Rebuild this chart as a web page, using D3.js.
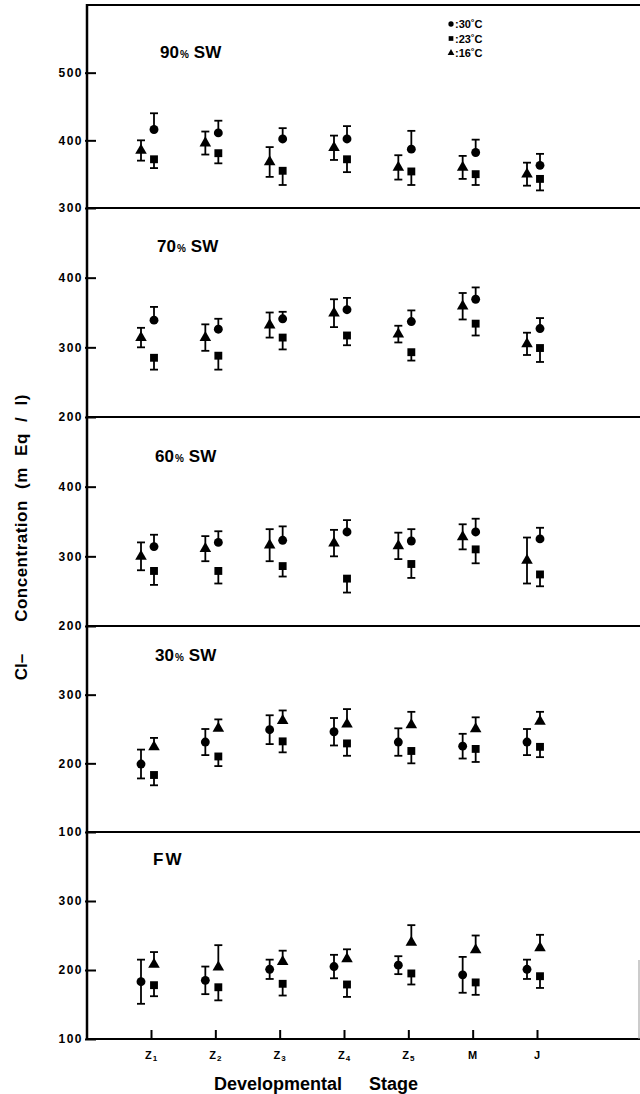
<!DOCTYPE html>
<html>
<head>
<meta charset="utf-8">
<script src="https://cdn.jsdelivr.net/npm/d3@7"></script>
<style>
  body { margin: 0; background: #fff; }
  svg { display: block; font-family: "Liberation Sans", Arial, sans-serif; font-weight: bold; }
</style>
</head>
<body>
<div id="chart"></div>
<script>
// stages on the x axis
var stages = ["Z1", "Z2", "Z3", "Z4", "Z5", "M", "J"];
var stageLabels = [["Z", "1"], ["Z", "2"], ["Z", "3"], ["Z", "4"], ["Z", "5"], ["M", ""], ["J", ""]];

// panels, top to bottom
var panelNames = ["90", "70", "60", "30", "FW"];
var panelDomains = [[300, 600], [200, 500], [200, 500], [100, 400], [100, 400]];

// Cl- (mEq/l), mean and error per temperature
var sw90_30 = [416, 411, 402, 402, 387, 382, 363];
var sw90_30_err = [24, 18, 16, 19, 27, 19, 17];
var sw90_23 = [372, 381, 355, 372, 354, 350, 343];
var sw90_23_err = [13, 15, 21, 19, 20, 16, 17];
var sw90_16 = [385, 396, 368, 389, 360, 360, 350];
var sw90_16_err = [15, 17, 22, 18, 18, 17, 17];

var sw70_30 = [339, 326, 341, 354, 337, 369, 327];
var sw70_30_err = [19, 15, 10, 17, 16, 17, 15];
var sw70_23 = [285, 288, 314, 317, 293, 334, 299];
var sw70_23_err = [17, 20, 17, 14, 12, 17, 20];
var sw70_16 = [314, 314, 332, 349, 319, 359, 305];
var sw70_16_err = [14, 19, 18, 20, 12, 19, 16];

var sw60_30 = [314, 320, 323, 335, 322, 335, 325];
var sw60_30_err = [17, 16, 20, 17, 17, 19, 16];
var sw60_23 = [279, 279, 286, 268, 289, 310, 274];
var sw60_23_err = [20, 18, 15, 20, 20, 20, 17];
var sw60_16 = [300, 311, 316, 319, 315, 328, 294];
var sw60_16_err = [20, 18, 23, 19, 19, 18, 33];

var sw30_30 = [199, 231, 249, 246, 231, 225, 231];
var sw30_30_err = [21, 19, 21, 20, 20, 18, 19];
var sw30_23 = [183, 210, 232, 229, 218, 221, 224];
var sw30_23_err = [15, 14, 16, 18, 18, 19, 15];
var sw30_16 = [224, 251, 262, 257, 256, 250, 261];
var sw30_16_err = [13, 13, 15, 22, 19, 17, 14];

var fw_30 = [183, 185, 201, 205, 207, 193, 201];
var fw_30_err = [32, 20, 14, 17, 13, 26, 14];
var fw_23 = [178, 175, 180, 179, 195, 182, 191];
var fw_23_err = [16, 19, 17, 18, 16, 18, 17];
var fw_16 = [208, 204, 212, 216, 240, 229, 232];
var fw_16_err = [18, 32, 16, 14, 25, 21, 19];

var w = 640, h = 1094;
var left = 87;
var bounds = [5, 208, 417, 626, 832, 1039];

var svg = d3.select("#chart").append("svg")
  .attr("width", w)
  .attr("height", h);

var x = d3.scalePoint().domain(stages).range([151, 537]);

var shapes = { "30": d3.symbolCircle, "23": d3.symbolSquare, "16": d3.symbolTriangle };
var sizes = { "30": 62, "23": 62, "16": 58 };

var panels = [
  { series: [["16", sw90_16, sw90_16_err], ["30", sw90_30, sw90_30_err], ["23", sw90_23, sw90_23_err]] },
  { series: [["16", sw70_16, sw70_16_err], ["30", sw70_30, sw70_30_err], ["23", sw70_23, sw70_23_err]] },
  { series: [["16", sw60_16, sw60_16_err], ["30", sw60_30, sw60_30_err], ["23", sw60_23, sw60_23_err]] },
  { series: [["30", sw30_30, sw30_30_err], ["16", sw30_16, sw30_16_err], ["23", sw30_23, sw30_23_err]] },
  { series: [["30", fw_30, fw_30_err], ["16", fw_16, fw_16_err], ["23", fw_23, fw_23_err]] }
];

// offset and bar side per series: first one sits left with a full bar,
// the other two share a column (upper one shows the top half, lower one the bottom half)
var offsets = [-10, 3, 3];
var sides = ["both", "up", "down"];

panels.forEach(function(p, i) {
  var y = d3.scaleLinear().domain(panelDomains[i]).range([bounds[i + 1], bounds[i]]);
  var g = svg.append("g");

  var lo = panelDomains[i][0];
  g.append("g")
    .attr("transform", "translate(" + left + ",0)")
    .call(d3.axisLeft(y).tickValues([lo, lo + 100, lo + 200]).tickSize(-9).tickPadding(4))
    .call(function(a) {
      a.select(".domain").remove();
      a.selectAll(".tick line").attr("stroke", "#000").attr("stroke-width", 2).attr("x1", -2);
      a.selectAll(".tick text")
        .attr("font-family", "Liberation Sans, Arial, sans-serif")
        .attr("font-weight", "bold")
        .attr("font-size", 12)
        .attr("letter-spacing", 1.5)
        .attr("fill", "#000");
    });

  // title
  var title = g.append("text")
    .attr("x", [160, 157, 155, 155, 153][i])
    .attr("y", [58, 252, 462, 661, 865][i])
    .attr("font-size", 17)
    .attr("fill", "#000");
  if (panelNames[i] === "FW") {
    title.text("FW").attr("letter-spacing", 2);
  } else {
    title.append("tspan").text(panelNames[i]);
    title.append("tspan").attr("font-size", 10).attr("dx", 1).text("%");
    title.append("tspan").attr("dx", 5).text("SW");
  }

  p.series.forEach(function(s, k) {
    var key = s[0], vals = s[1], errs = s[2];
    var pts = vals.map(function(v, j) { return { stage: stages[j], v: v, e: errs[j] }; });
    var cx = function(d) { return x(d.stage) + offsets[k]; };

    var bars = g.append("g").attr("stroke", "#000").attr("stroke-width", 1.8);
    pts.forEach(function(d) {
      var top = sides[k] === "down" ? d.v : d.v + d.e;
      var bot = sides[k] === "up" ? d.v : d.v - d.e;
      var xx = cx(d);
      bars.append("line").attr("x1", xx).attr("x2", xx).attr("y1", y(top)).attr("y2", y(bot));
      if (sides[k] !== "down") {
        bars.append("line").attr("x1", xx - 4).attr("x2", xx + 4).attr("y1", y(top)).attr("y2", y(top));
      }
      if (sides[k] !== "up") {
        bars.append("line").attr("x1", xx - 4).attr("x2", xx + 4).attr("y1", y(bot)).attr("y2", y(bot));
      }
    });

    g.append("g").selectAll("path")
      .data(pts)
      .enter().append("path")
      .attr("d", d3.symbol().type(shapes[key]).size(sizes[key]))
      .attr("transform", function(d) { return "translate(" + cx(d) + "," + y(d.v) + ")"; })
      .attr("fill", "#000");
  });
});

// frame: top line, panel dividers, bottom axis, left axis
svg.append("g").selectAll("line")
  .data(bounds)
  .enter().append("line")
  .attr("x1", left).attr("x2", w)
  .attr("y1", function(d) { return d; }).attr("y2", function(d) { return d; })
  .attr("stroke", "#000").attr("stroke-width", 2);

svg.append("line")
  .attr("x1", left).attr("x2", left)
  .attr("y1", bounds[0] - 1).attr("y2", bounds[5] + 1)
  .attr("stroke", "#000").attr("stroke-width", 2.5);

svg.append("line")
  .attr("x1", 639).attr("x2", 639)
  .attr("y1", 960).attr("y2", bounds[5])
  .attr("stroke", "#999").attr("stroke-width", 1);

// x axis ticks and labels
var xAxis = svg.append("g")
  .attr("transform", "translate(0," + bounds[5] + ")")
  .call(d3.axisBottom(x).tickSize(-9).tickFormat(""));
xAxis.select(".domain").remove();
xAxis.selectAll(".tick line").attr("stroke", "#000").attr("stroke-width", 2);

svg.append("g").selectAll("text")
  .data(stageLabels)
  .enter().append("text")
  .attr("x", function(d, i) { return x(stages[i]); })
  .attr("y", 1059)
  .attr("text-anchor", "middle")
  .attr("font-size", 11)
  .each(function(d) {
    var t = d3.select(this);
    t.append("tspan").text(d[0]);
    if (d[1]) t.append("tspan").attr("font-size", 8).attr("dy", 2).attr("dx", 1).text(d[1]);
  });

svg.append("text")
  .attr("x", 316)
  .attr("y", 1090)
  .attr("text-anchor", "middle")
  .attr("font-size", 18)
  .attr("word-spacing", 22)
  .text("Developmental Stage");

// y title
svg.append("text")
  .attr("transform", "translate(27,508) rotate(-90)")
  .attr("text-anchor", "middle")
  .attr("font-size", 17)
  .attr("word-spacing", 6)
  .attr("letter-spacing", 0.5)
  .text("Concentration (m Eq / l)");

svg.append("text")
  .attr("transform", "translate(27,667) rotate(-90)")
  .attr("text-anchor", "middle")
  .attr("font-size", 17)
  .text("Cl\u2013");

// legend
var legendKeys = ["30", "23", "16"];
var legend = svg.append("g");
legendKeys.forEach(function(k, i) {
  var ly = 24 + i * 14.5;
  legend.append("path")
    .attr("d", d3.symbol().type(shapes[k]).size(k === "16" ? 20 : 22))
    .attr("transform", "translate(451," + ly + ")")
    .attr("fill", "#000");
  legend.append("text")
    .attr("x", 455)
    .attr("y", ly + 4)
    .attr("font-size", 11)
    .text(":" + k + "\u02DAC");
});
</script>
</body>
</html>
